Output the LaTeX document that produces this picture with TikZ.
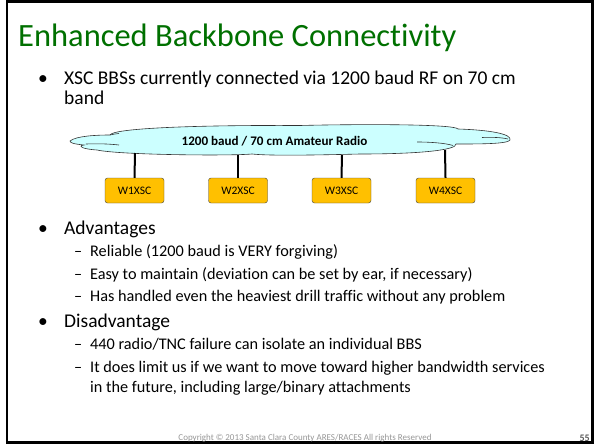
\documentclass[tikz,border=0pt]{standalone}
\usepackage{fontspec}
\setmainfont[Ligatures=NoCommon]{Carlito}
\usetikzlibrary{positioning}
\definecolor{titlegreen}{RGB}{0,112,0}
\definecolor{cloudcyan}{RGB}{204,255,255}
\definecolor{bbsorange}{RGB}{255,192,0}
\definecolor{footgray}{RGB}{150,150,150}
\begin{document}
\begin{tikzpicture}[x=1pt,y=-1pt,
  txt/.style={anchor=base west,inner sep=0pt},
  lvlone/.style={txt,font=\fontsize{19.5}{22}\selectfont},
  lvltwo/.style={txt,font=\fontsize{16.25}{19}\selectfont},
  bbs/.style={draw=black!75,fill=bbsorange,rounded corners=2.5pt,minimum width=59pt,
    minimum height=25pt,inner sep=0pt,font=\fontsize{11.5}{12}\selectfont},
  link/.style={line width=2pt}]
  \useasboundingbox (0,0) rectangle (596,444);
  \draw[line width=2.5pt] (7,1.5) rectangle (592.5,442.5);
  % title
  \node[txt,text=titlegreen,font=\fontsize{32.5}{36}\selectfont] (title) at (18,46) {Enhanced Backbone Connectivity};
  % first bullet
  \node[lvlone] (b1) at (38,84) {•};
  \node[lvlone] (t1) at (64,84) {XSC BBSs currently connected via 1200 baud RF on 70 cm};
  \node[lvlone] (t1b) at (64,104) {band};
  % cloud
  \draw[fill=cloudcyan,draw=black!80,line width=0.6pt]
    (70,141) .. controls (76,136) and (96,135) .. (110,135)
    .. controls (113,128) and (200,125) .. (300,125.5)
    .. controls (360,124) and (455,124) .. (458,129)
    .. controls (490,130) and (512,134) .. (510,140)
    .. controls (508,144) and (480,144) .. (456,144)
    .. controls (457,150) and (420,154) .. (360,154)
    .. controls (320,155) and (270,156) .. (252,154)
    .. controls (230,156) and (120,155) .. (97,150)
    .. controls (82,149) and (77,146) .. (84,145)
    .. controls (74,144) and (70,143) .. (70,141) -- cycle;
  \draw[draw=black!80,line width=0.6pt] (86,144) .. controls (100,143.5) and (110,144) .. (119,145);
  \draw[draw=black!80,line width=0.6pt] (110,135) .. controls (113,134) and (116,134) .. (119,133.5);
  \draw[draw=black!80,line width=0.6pt] (417,142) .. controls (430,142) and (445,143) .. (453,145.5);
  \draw[draw=black!80,line width=0.6pt] (482,137.5) .. controls (492,137) and (502,137.5) .. (508,139);
  \node[inner sep=0pt,font=\fontsize{13.1}{14}\selectfont\bfseries] (net) at (274.5,141) {1200 baud / 70 cm Amateur Radio};
  \coordinate (c1) at (135,153);
  \coordinate (c2) at (238,155);
  \coordinate (c3) at (342,155);
  \coordinate (c4) at (445,150);
  % stations
  \node[bbs] (W1) at (134.5,190.5) {W1XSC};
  \node[bbs] (W2) at (238,190.5) {W2XSC};
  \node[bbs] (W3) at (341.5,190.5) {W3XSC};
  \node[bbs] (W4) at (445.5,190.5) {W4XSC};
  \draw[link] (c1) -- (W1.north);
  \draw[link] (c2) -- (W2.north);
  \draw[link] (c3) -- (W3.north);
  \draw[link] (c4) -- (W4.north);
  % advantages
  \node[lvlone] (b2) at (38,234) {•};
  \node[lvlone] (t2) at (64,234) {Advantages};
  \node[lvltwo] (d1) at (74,256) {–};
  \node[lvltwo] (a1) at (90,256) {Reliable (1200 baud is VERY forgiving)};
  \node[lvltwo] (d2) at (74,279) {–};
  \node[lvltwo] (a2) at (90,279) {Easy to maintain (deviation can be set by ear, if necessary)};
  \node[lvltwo] (d3) at (74,301) {–};
  \node[lvltwo] (a3) at (90,301) {Has handled even the heaviest drill traffic without any problem};
  % disadvantage
  \node[lvlone] (b3) at (38,327) {•};
  \node[lvlone] (t3) at (64,327) {Disadvantage};
  \node[lvltwo] (d4) at (74,349) {–};
  \node[lvltwo] (n1) at (90,349) {440 radio/TNC failure can isolate an individual BBS};
  \node[lvltwo] (d5) at (74,372) {–};
  \node[lvltwo] (n2) at (90,372) {It does limit us if we want to move toward higher bandwidth services};
  \node[lvltwo] (n2b) at (90,392) {in the future, including large/binary attachments};
  % footer
  \node[anchor=base,inner sep=0pt,text=footgray,font=\fontsize{9}{10}\selectfont] (copy) at (305,440) {Copyright © 2013 Santa Clara County ARES/RACES All rights Reserved};
  \node[anchor=base east,inner sep=0pt,text=black!65,font=\fontsize{10}{10}\selectfont\bfseries] (pg) at (590,441) {55};
\end{tikzpicture}
\end{document}
